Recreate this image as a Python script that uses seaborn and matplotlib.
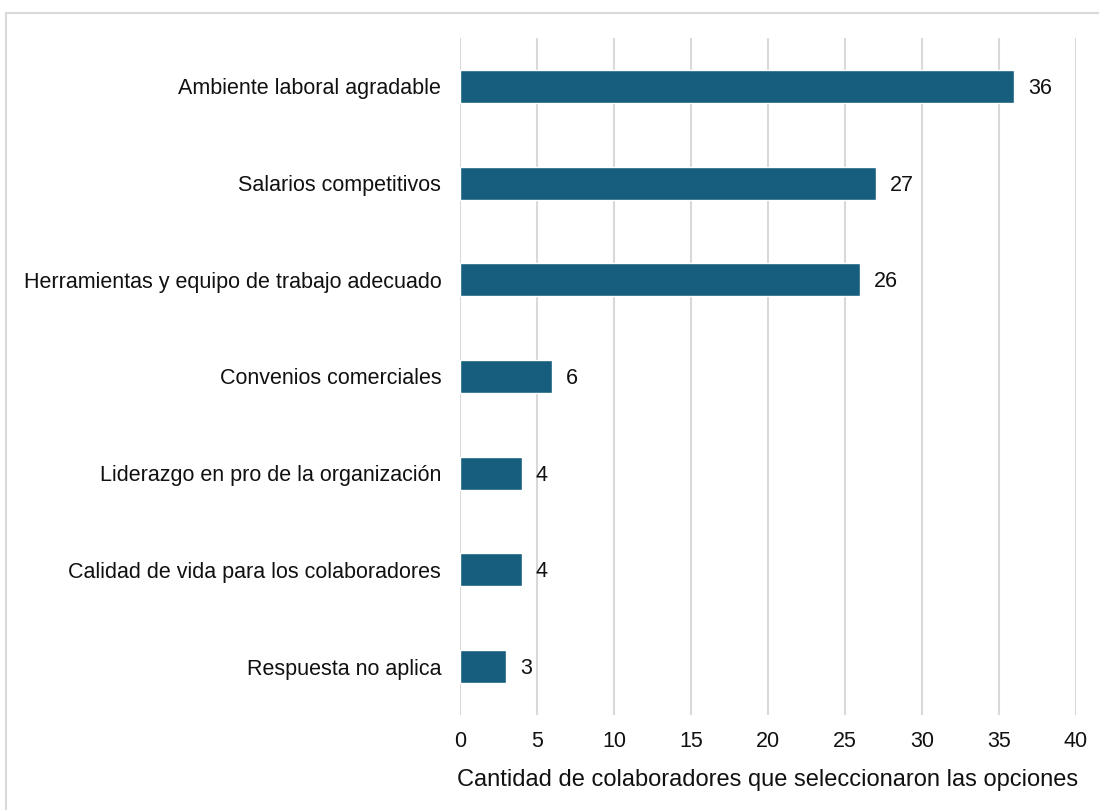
import matplotlib
matplotlib.use("Agg")
import matplotlib.pyplot as plt
import matplotlib.patches as mpatches
import seaborn as sns
import pandas as pd

categorias = [
    "Ambiente laboral agradable",
    "Salarios competitivos",
    "Herramientas y equipo de trabajo adecuado",
    "Convenios comerciales",
    "Liderazgo en pro de la organización",
    "Calidad de vida para los colaboradores",
    "Respuesta no aplica",
]
valores = [36, 27, 26, 6, 4, 4, 3]
ticks_x = [0, 5, 10, 15, 20, 25, 30, 35, 40]
etiqueta_x = "Cantidad de colaboradores que seleccionaron las opciones"

sns.set_theme(style="white")
plt.rcParams["font.family"] = ["Liberation Sans", "DejaVu Sans"]

W, H = 1099, 810
fig = plt.figure(figsize=(W / 100, H / 100), dpi=100)
ax = fig.add_axes([460 / W, 1 - 715 / H, (1076 - 460) / W, (715 - 38) / H])

df = pd.DataFrame({"categoria": categorias, "valor": valores})
color = "#175e7e"
sns.barplot(data=df, x="valor", y="categoria", orient="h", color=color,
            width=0.34, saturation=1, ax=ax, zorder=3)

ax.set_xlim(0, 40)
ax.set_ylim(6.5, -0.5)
ax.set_xticks(ticks_x)
ax.xaxis.grid(True, color="#d9d9d9", linewidth=1.5, zorder=0)
ax.yaxis.grid(False)
for s in ax.spines.values():
    s.set_visible(False)

ax.tick_params(axis="both", length=0, labelsize=15.5, colors="#111111")
ax.tick_params(axis="x", pad=11.5)
ax.tick_params(axis="y", pad=13.5)
ax.set_ylabel("")
ax.set_xlabel(etiqueta_x, fontsize=17, color="#111111", labelpad=12)

for i, v in enumerate(valores):
    ax.text(v + 0.9, i + 0.02, str(v), va="center", ha="left", fontsize=15.5,
            color="#111111", zorder=4)

# outer frame (left and top edges visible)
frame = mpatches.Rectangle((6 / W, -0.1), 1.2, 1 - 13 / H + 0.1,
                           transform=fig.transFigure, fill=False,
                           edgecolor="#d9d9d9", linewidth=1.5)
fig.patches.append(frame)

fig.savefig("out.png", dpi=100, facecolor="white")
